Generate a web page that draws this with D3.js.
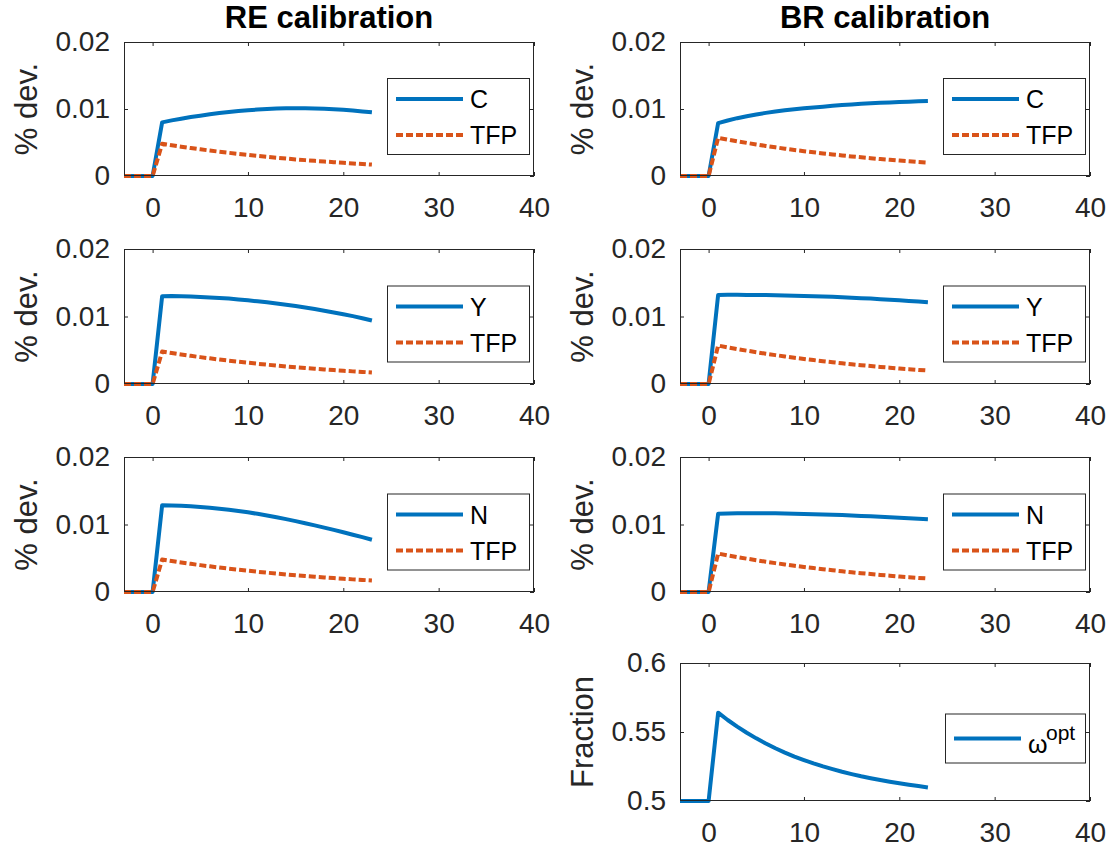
<!DOCTYPE html>
<html><head><meta charset="utf-8">
<script src="https://cdn.jsdelivr.net/npm/d3@7"></script>
<style>
body{margin:0;background:#fff;}
svg{display:block;}
text{font-family:"Liberation Sans",Arial,Helvetica,sans-serif;}
</style></head><body>
<svg id="chart" width="1115" height="851"></svg>
<script>
// ---------- data ----------
const periods = [-3,-2,-1,0,1,2,3,4,5,6,7,8,9,10,11,12,13,14,15,16,17,18,19,20,21,22,23];
const xTicks = [0,10,20,30,40];
const xDomain = [-3,40];
const devTicks = [0,0.01,0.02];
const fracTicks = [0.5,0.55,0.6];
const columnTitles = ["RE calibration","BR calibration"];

const reC   = [0,0,0,0,0.0080,0.0083,0.00855,0.0088,0.0090,0.00922,0.0094,0.00956,0.0097,0.0098,0.00992,0.01,0.01006,0.0101,0.01012,0.01011,0.01008,0.01003,0.00997,0.00988,0.00977,0.00964,0.0095];
const reY   = [0,0,0,0,0.0130,0.01302,0.0130,0.01296,0.0129,0.01283,0.01275,0.01265,0.01253,0.0124,0.01225,0.0121,0.01193,0.01175,0.01155,0.01133,0.0111,0.01085,0.0106,0.01033,0.01005,0.00975,0.0094];
const reN   = [0,0,0,0,0.01284,0.01283,0.01278,0.0127,0.0126,0.01248,0.01234,0.01219,0.01201,0.0118,0.01158,0.01134,0.01108,0.0108,0.0105,0.01019,0.00987,0.00954,0.0092,0.00885,0.00849,0.00812,0.00774];
const reTFP = [0,0,0,0,0.0048,0.00458,0.00437,0.00417,0.00398,0.0038,0.00362,0.00346,0.0033,0.00315,0.003,0.00286,0.00273,0.0026,0.00248,0.00237,0.00226,0.00216,0.00206,0.00196,0.00187,0.00179,0.0017];

const brC   = [0,0,0,0,0.0079,0.00829,0.00863,0.00893,0.00919,0.00942,0.00962,0.0098,0.00996,0.0101,0.01023,0.01035,0.01047,0.01058,0.01068,0.01077,0.01085,0.01092,0.01098,0.01104,0.01109,0.01114,0.01118];
const brY   = [0,0,0,0,0.0132,0.01321,0.01321,0.0132,0.01319,0.01317,0.01315,0.01312,0.01309,0.01305,0.01301,0.01296,0.01291,0.01285,0.01279,0.01272,0.01265,0.01257,0.01249,0.0124,0.01231,0.01221,0.0121];
const brN   = [0,0,0,0,0.0116,0.01163,0.01165,0.01166,0.01166,0.01166,0.01165,0.01163,0.0116,0.01157,0.01153,0.01149,0.01144,0.01139,0.01133,0.01127,0.01121,0.01114,0.01107,0.011,0.01093,0.01085,0.01078];
const brTFP = [0,0,0,0,0.0057,0.00543,0.00518,0.00494,0.00471,0.00449,0.00428,0.00408,0.00389,0.00371,0.00354,0.00337,0.00322,0.00307,0.00292,0.00279,0.00266,0.00253,0.00242,0.0023,0.0022,0.00209,0.002];
const brOmega = [0.5,0.5,0.5,0.5,0.564,0.5587,0.5539,0.5495,0.5454,0.5417,0.5382,0.5351,0.5322,0.5297,0.5273,0.5251,0.5231,0.5212,0.5195,0.5179,0.5165,0.5152,0.514,0.5129,0.5118,0.5108,0.5098];

const panels = [
  {col:0,row:0,ylabel:"% dev.",yTicks:devTicks,lines:[{name:"C",values:reC,dot:false},{name:"TFP",values:reTFP,dot:true}]},
  {col:1,row:0,ylabel:"% dev.",yTicks:devTicks,lines:[{name:"C",values:brC,dot:false},{name:"TFP",values:brTFP,dot:true}]},
  {col:0,row:1,ylabel:"% dev.",yTicks:devTicks,lines:[{name:"Y",values:reY,dot:false},{name:"TFP",values:reTFP,dot:true}]},
  {col:1,row:1,ylabel:"% dev.",yTicks:devTicks,lines:[{name:"Y",values:brY,dot:false},{name:"TFP",values:brTFP,dot:true}]},
  {col:0,row:2,ylabel:"% dev.",yTicks:devTicks,lines:[{name:"N",values:reN,dot:false},{name:"TFP",values:reTFP,dot:true}]},
  {col:1,row:2,ylabel:"% dev.",yTicks:devTicks,lines:[{name:"N",values:brN,dot:false},{name:"TFP",values:brTFP,dot:true}]},
  {col:1,row:3,ylabel:"Fraction",yTicks:fracTicks,omega:true,lines:[{name:"ω",sup:"opt",values:brOmega,dot:false}]}
];

// ---------- layout ----------
const W=1115,H=851;
const colX=[124,680], axW=410;
const rowTop=[42,249,457,663], rowBot=[176,384,592,801];
const BLUE="#0072BD", ORANGE="#D95319", AXC="#262626";
const FONT='"Liberation Sans",Arial,Helvetica,sans-serif';
const LW=4;

const svg=d3.select("#chart");
svg.append("rect").attr("width",W).attr("height",H).attr("fill","#fff");

columnTitles.forEach((t,i)=>{
  svg.append("text").attr("x",colX[i]+axW/2).attr("y",28)
    .attr("text-anchor","middle").attr("font-size",31).attr("font-weight","bold")
    .attr("fill","#000").text(t);
});

panels.forEach(p=>{
  const x0=colX[p.col], y0=rowTop[p.row], h=rowBot[p.row]-y0;
  const x=d3.scaleLinear().domain(xDomain).range([0,axW]);
  const y=d3.scaleLinear().domain(d3.extent(p.yTicks)).range([h,0]);
  const g=svg.append("g").attr("transform",`translate(${x0},${y0})`);
  const tl=4;

  g.append("rect").attr("x",0).attr("y",0).attr("width",axW).attr("height",h)
    .attr("fill","#fff").attr("stroke","none");

  g.append("g").attr("transform",`translate(0,${h})`)
    .call(d3.axisBottom(x).tickValues(xTicks).tickSize(-tl).tickPadding(21).tickFormat(d=>String(d)));
  g.append("g").call(d3.axisTop(x).tickValues(xTicks).tickSize(-tl).tickFormat(""));
  g.append("g").call(d3.axisLeft(y).tickValues(p.yTicks).tickSize(-tl).tickPadding(14).tickFormat(d=>String(d)));
  g.append("g").attr("transform",`translate(${axW},0)`)
    .call(d3.axisRight(y).tickValues(p.yTicks).tickSize(-tl).tickFormat(""));
  g.selectAll(".domain").remove();
  g.selectAll(".tick line").attr("stroke",AXC).attr("stroke-width",1);
  g.selectAll(".tick text").attr("font-size",28).attr("fill",AXC).attr("font-family",FONT);

  // data lines
  const line=d3.line().x((d,i)=>x(periods[i])).y(d=>y(d));
  p.lines.forEach(s=>{
    g.append("path").datum(s.values).attr("d",line)
      .attr("fill","none").attr("stroke",s.dot?ORANGE:BLUE)
      .attr("stroke-width",LW).attr("stroke-linejoin","round")
      .attr("stroke-dasharray",s.dot?"7,3":null);
  });

  // box
  g.append("rect").attr("x",0.5).attr("y",0.5).attr("width",axW-1).attr("height",h-1)
    .attr("fill","none").attr("stroke",AXC).attr("stroke-width",1);

  // y label
  g.append("text").attr("transform",`translate(-87,${h/2}) rotate(-90)`)
    .attr("text-anchor","middle").attr("font-size",31).attr("fill",AXC).text(p.ylabel);

  // legend
  const legW=p.omega?140:142, legH=p.omega?49:76;
  const lx=axW-5-legW, ly=h/2+(p.omega?6:7)-legH/2;
  const lg=g.append("g").attr("transform",`translate(${lx},${ly})`);
  lg.append("rect").attr("x",0.5).attr("y",0.5).attr("width",legW).attr("height",legH)
    .attr("fill","#fff").attr("stroke",AXC).attr("stroke-width",1);
  const entryY=p.omega?[25]:[21,57];
  p.lines.forEach((s,i)=>{
    const ey=entryY[i];
    lg.append("line").attr("x1",9).attr("x2",76).attr("y1",ey).attr("y2",ey)
      .attr("stroke",s.dot?ORANGE:BLUE).attr("stroke-width",LW)
      .attr("stroke-dasharray",s.dot?"7,3":null);
    if(s.sup){
      lg.append("text").attr("x",83).attr("y",39).attr("font-size",25).attr("fill","#000").text(s.name);
      lg.append("text").attr("x",101).attr("y",26).attr("font-size",21).attr("fill","#000").text(s.sup);
    } else {
      lg.append("text").attr("x",83).attr("y",ey).attr("dy","0.36em").attr("font-size",25).attr("fill","#000").text(s.name);
    }
  });
});
</script>
</body></html>
